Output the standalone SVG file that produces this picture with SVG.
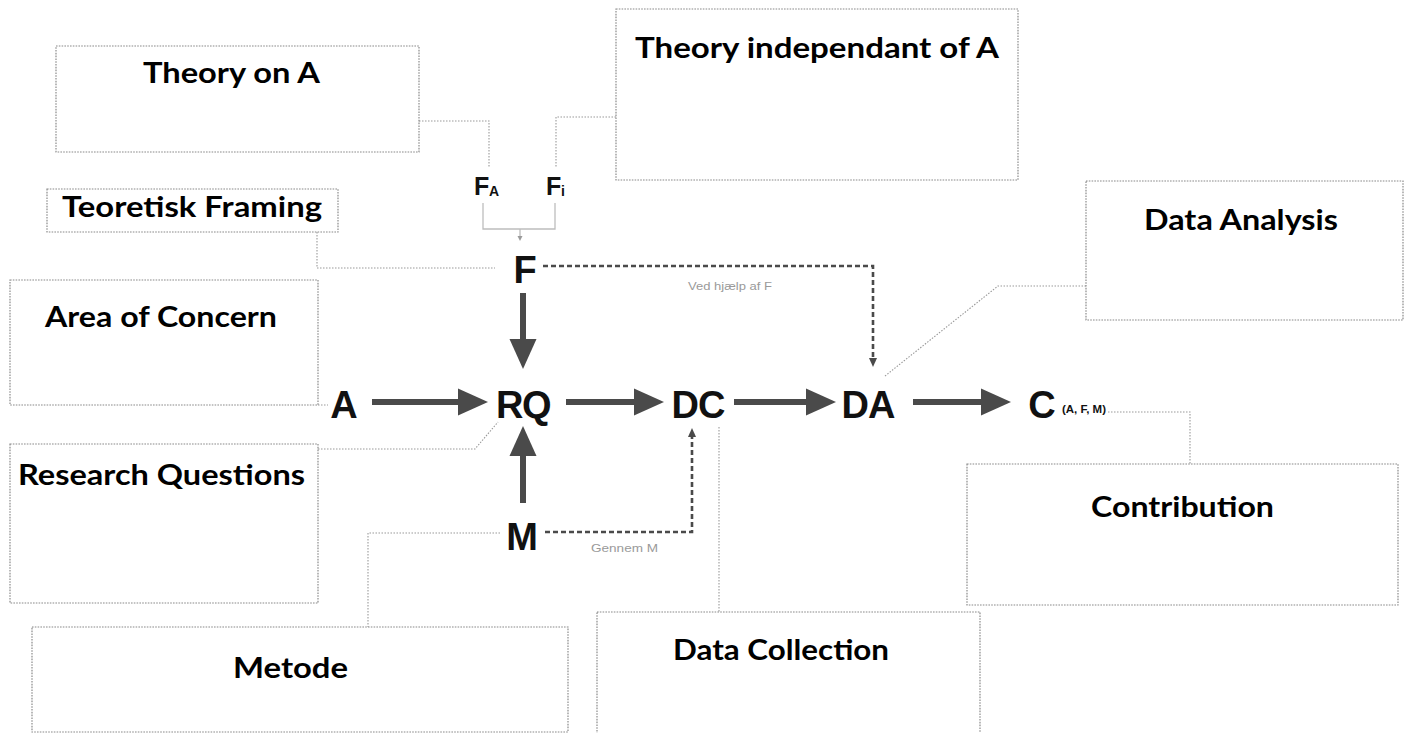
<svg xmlns="http://www.w3.org/2000/svg" width="1407" height="733" viewBox="0 0 1407 733">
  <style>
    .box { fill: none; stroke: #8a8a8a; stroke-width: 1.2; stroke-dasharray: 1.6 1.2; }
    .label { font-family: Lato, "Liberation Sans", sans-serif; font-weight: 700; font-size: 29px; fill: #000; }
    .sym { font-family: "Liberation Sans", Arial, sans-serif; font-weight: 700; fill: #111; }
    .big { font-size: 38px; }
    .note { font-family: "Liberation Sans", Arial, sans-serif; font-size: 11px; fill: #9a9a9a; }
    .flow { stroke: #4a4a4a; stroke-width: 6; fill: none; }
    .via { stroke: #4a4a4a; stroke-width: 2.6; stroke-dasharray: 5 3; fill: none; }
    .callout { stroke: #999; stroke-width: 1.1; stroke-dasharray: 1.5 1.5; fill: none; }
    .merge { stroke: #bdbdbd; stroke-width: 1.3; fill: none; }
  </style>
  <defs>
    <marker id="head" markerUnits="userSpaceOnUse" markerWidth="30" markerHeight="28" refX="0" refY="14" orient="auto">
      <path d="M0,0.5 L30,14 L0,27.5 z" fill="#4a4a4a"/>
    </marker>
    <marker id="headSmall" markerUnits="userSpaceOnUse" markerWidth="10" markerHeight="10" refX="0" refY="5" orient="auto">
      <path d="M0,1 L9,5 L0,9 z" fill="#4a4a4a"/>
    </marker>
    <marker id="headTiny" markerUnits="userSpaceOnUse" markerWidth="6" markerHeight="6" refX="0" refY="3" orient="auto">
      <path d="M0,0.5 L5,3 L0,5.5 z" fill="#9a9a9a"/>
    </marker>
  </defs>

  <rect width="1407" height="733" fill="#fff"/>

  <!-- connectors -->
  <g id="connectors">
    <!-- main flow -->
    <line class="flow" x1="372" y1="402" x2="458" y2="402" marker-end="url(#head)"/>
    <line class="flow" x1="566" y1="402" x2="634" y2="402" marker-end="url(#head)"/>
    <line class="flow" x1="734" y1="402" x2="806" y2="402" marker-end="url(#head)"/>
    <line class="flow" x1="913" y1="402" x2="981" y2="402" marker-end="url(#head)"/>
    <line class="flow" x1="523" y1="293" x2="523" y2="339" marker-end="url(#head)"/>
    <line class="flow" x1="523" y1="503" x2="523" y2="456" marker-end="url(#head)"/>

    <!-- supporting paths -->
    <path class="via" d="M543,266 H873 V358" marker-end="url(#headSmall)"/>
    <path class="via" d="M545,532 H692 V437" marker-end="url(#headSmall)"/>

    <!-- F_A + F_i merge into F -->
    <path class="merge" d="M483,203 V229 H555 V203"/>
    <line class="merge" x1="520" y1="229" x2="520" y2="236" marker-end="url(#headTiny)"/>

    <!-- callout lines from labels to symbols -->
    <path class="callout" d="M419,121 H489 V167"/>
    <path class="callout" d="M616,117 H556 V168"/>
    <path class="callout" d="M317,232 V268 H495"/>
    <path class="callout" d="M318,405 H328"/>
    <path class="callout" d="M318,449 H475 L498,422"/>
    <path class="callout" d="M500,533 H368 V627"/>
    <path class="callout" d="M719,427 V612"/>
    <path class="callout" d="M885,376 L998,286 H1086"/>
    <path class="callout" d="M1108,412 H1190 V464"/>
  </g>

  <!-- symbol nodes -->
  <g id="node-A"><text class="sym big" x="344" y="418" text-anchor="middle">A</text></g>
  <g id="node-RQ"><text class="sym big" x="523" y="418" text-anchor="middle" letter-spacing="-1.5">RQ</text></g>
  <g id="node-DC"><text class="sym big" x="698" y="418" text-anchor="middle" letter-spacing="-1">DC</text></g>
  <g id="node-DA"><text class="sym big" x="868" y="418" text-anchor="middle" letter-spacing="-1">DA</text></g>
  <g id="node-C">
    <text class="sym big" x="1042" y="418" text-anchor="middle">C</text>
    <text class="sym" x="1062" y="413" font-size="10" textLength="44" lengthAdjust="spacingAndGlyphs">(A, F, M)</text>
  </g>
  <g id="node-F"><text class="sym big" x="525" y="283" text-anchor="middle">F</text></g>
  <g id="node-M"><text class="sym big" x="522" y="550" text-anchor="middle">M</text></g>
  <g id="node-FA">
    <text class="sym" x="474" y="195" font-size="25">F</text>
    <text class="sym" x="489" y="196" font-size="14">A</text>
  </g>
  <g id="node-Fi">
    <text class="sym" x="546" y="195" font-size="25">F</text>
    <text class="sym" x="561" y="196" font-size="14">i</text>
  </g>

  <!-- path notes -->
  <g id="note-F"><text class="note" x="688" y="290" textLength="84" lengthAdjust="spacingAndGlyphs">Ved hjælp af F</text></g>
  <g id="note-M"><text class="note" x="591" y="552" textLength="67" lengthAdjust="spacingAndGlyphs">Gennem M</text></g>

  <!-- label boxes -->
  <g id="box-theory-a">
    <rect class="box" x="56" y="46" width="363" height="106"/>
    <text class="label" x="143" y="83" textLength="177" lengthAdjust="spacingAndGlyphs">Theory on A</text>
  </g>
  <g id="box-theory-indep">
    <rect class="box" x="616" y="9" width="402" height="171"/>
    <text class="label" x="635" y="58" font-size="31" textLength="364" lengthAdjust="spacingAndGlyphs">Theory independant of A</text>
  </g>
  <g id="box-framing">
    <rect class="box" x="47" y="189" width="291" height="43"/>
    <text class="label" x="62" y="217" textLength="260" lengthAdjust="spacingAndGlyphs">Teoretisk Framing</text>
  </g>
  <g id="box-concern">
    <rect class="box" x="10" y="280" width="308" height="125"/>
    <text class="label" x="45" y="327" textLength="232" lengthAdjust="spacingAndGlyphs">Area of Concern</text>
  </g>
  <g id="box-questions">
    <rect class="box" x="10" y="444" width="308" height="159"/>
    <text class="label" x="18" y="485" textLength="287" lengthAdjust="spacingAndGlyphs">Research Questions</text>
  </g>
  <g id="box-metode">
    <rect class="box" x="32" y="627" width="536" height="105"/>
    <text class="label" x="233" y="678" textLength="115" lengthAdjust="spacingAndGlyphs">Metode</text>
  </g>
  <g id="box-collection">
    <rect class="box" x="597" y="612" width="383" height="122"/>
    <text class="label" x="673" y="660" textLength="216" lengthAdjust="spacingAndGlyphs">Data Collection</text>
  </g>
  <g id="box-analysis">
    <rect class="box" x="1086" y="181" width="317" height="139"/>
    <text class="label" x="1144" y="230" textLength="194" lengthAdjust="spacingAndGlyphs">Data Analysis</text>
  </g>
  <g id="box-contribution">
    <rect class="box" x="967" y="464" width="431" height="141"/>
    <text class="label" x="1091" y="517" textLength="183" lengthAdjust="spacingAndGlyphs">Contribution</text>
  </g>
</svg>
